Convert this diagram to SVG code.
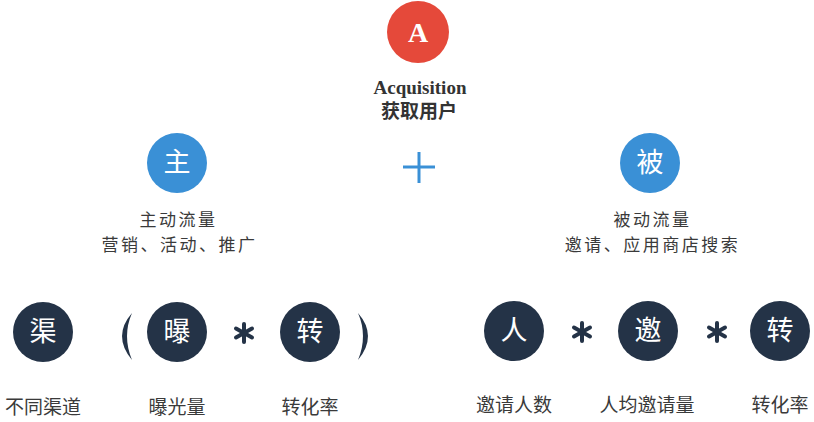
<svg xmlns="http://www.w3.org/2000/svg" width="814" height="422" viewBox="0 0 814 422">
<style>
.bg{fill:#ffffff}
.red{fill:#e5493a}
.blue{fill:#3a90d6}
.navy{fill:#243347}
.ctext{font-family:"Noto Sans CJK SC","Noto Sans",sans-serif;font-size:27px;fill:#ffffff;text-anchor:middle}
.lbl{font-family:"Noto Sans CJK SC","Noto Sans",sans-serif;font-size:19px;fill:#3a3a3a;text-anchor:middle}
.lbl2{font-family:"Noto Sans CJK SC","Noto Sans",sans-serif;font-size:17px;letter-spacing:2.5px;fill:#3a3a3a;text-anchor:middle}
.star{stroke:#243347;stroke-width:4;stroke-linecap:round}
</style>
<rect class="bg" x="0" y="0" width="814" height="422"/>
<g id="node-A">
<circle class="red" cx="418" cy="32" r="31"/>
<text x="418" y="42" font-family="Liberation Serif,serif" font-size="28" font-weight="bold" fill="#ffffff" text-anchor="middle">A</text>
<text x="420" y="94" font-family="Liberation Serif,serif" font-size="19" font-weight="bold" fill="#333333" text-anchor="middle">Acquisition</text>
<text x="419" y="118" font-family="Noto Sans CJK SC,sans-serif" font-size="19" font-weight="bold" fill="#333333" text-anchor="middle">获取用户</text>
</g>
<g id="node-zhu">
<circle class="blue" cx="177" cy="163" r="30"/>
<text class="ctext" x="177" y="172">主</text>
<text class="lbl2" x="178.5" y="226">主动流量</text>
<text class="lbl2" x="179.5" y="251">营销、活动、推广</text>
</g>
<g id="plus">
<line x1="403" y1="167" x2="435" y2="167" stroke="#3a90d6" stroke-width="3"/>
<line x1="419" y1="152" x2="419" y2="183" stroke="#3a90d6" stroke-width="3"/>
</g>
<g id="node-bei">
<circle class="blue" cx="650" cy="163" r="30"/>
<text class="ctext" x="650" y="172">被</text>
<text class="lbl2" x="652.5" y="226">被动流量</text>
<text class="lbl2" x="652.5" y="251">邀请、应用商店搜索</text>
</g>
<g id="node-qu">
<circle class="navy" cx="43" cy="332" r="30"/>
<text class="ctext" x="43" y="341">渠</text>
<text class="lbl" x="43" y="414">不同渠道</text>
</g>
<g id="paren-open">
<path d="M132 313 Q112 336 132 360 Q122 336 132 313 Z" fill="#243347"/>
</g>
<g id="node-pu">
<circle class="navy" cx="177" cy="332" r="30"/>
<text class="ctext" x="177" y="341">曝</text>
<text class="lbl" x="177" y="414">曝光量</text>
</g>
<g id="star1">
<g transform="translate(244,333)">
<line class="star" x1="0" y1="-9" x2="0" y2="9"/>
<line class="star" x1="-8" y1="-4.5" x2="8" y2="4.5"/>
<line class="star" x1="-8" y1="4.5" x2="8" y2="-4.5"/>
</g>
</g>
<g id="node-zhuan1">
<circle class="navy" cx="310" cy="332" r="30"/>
<text class="ctext" x="310" y="341">转</text>
<text class="lbl" x="310" y="414">转化率</text>
</g>
<g id="paren-close">
<path d="M358 313 Q378 336 358 360 Q368 336 358 313 Z" fill="#243347"/>
</g>
<g id="node-ren">
<circle class="navy" cx="514" cy="331" r="30"/>
<text class="ctext" x="514" y="340">人</text>
<text class="lbl" x="514" y="412">邀请人数</text>
</g>
<g id="star2">
<g transform="translate(582,332)">
<line class="star" x1="0" y1="-9" x2="0" y2="9"/>
<line class="star" x1="-8" y1="-4.5" x2="8" y2="4.5"/>
<line class="star" x1="-8" y1="4.5" x2="8" y2="-4.5"/>
</g>
</g>
<g id="node-yao">
<circle class="navy" cx="648" cy="331" r="30"/>
<text class="ctext" x="648" y="340">邀</text>
<text class="lbl" x="647" y="412">人均邀请量</text>
</g>
<g id="star3">
<g transform="translate(717,332)">
<line class="star" x1="0" y1="-9" x2="0" y2="9"/>
<line class="star" x1="-8" y1="-4.5" x2="8" y2="4.5"/>
<line class="star" x1="-8" y1="4.5" x2="8" y2="-4.5"/>
</g>
</g>
<g id="node-zhuan2">
<circle class="navy" cx="780" cy="331" r="30"/>
<text class="ctext" x="780" y="340">转</text>
<text class="lbl" x="780" y="412">转化率</text>
</g>
</svg>
